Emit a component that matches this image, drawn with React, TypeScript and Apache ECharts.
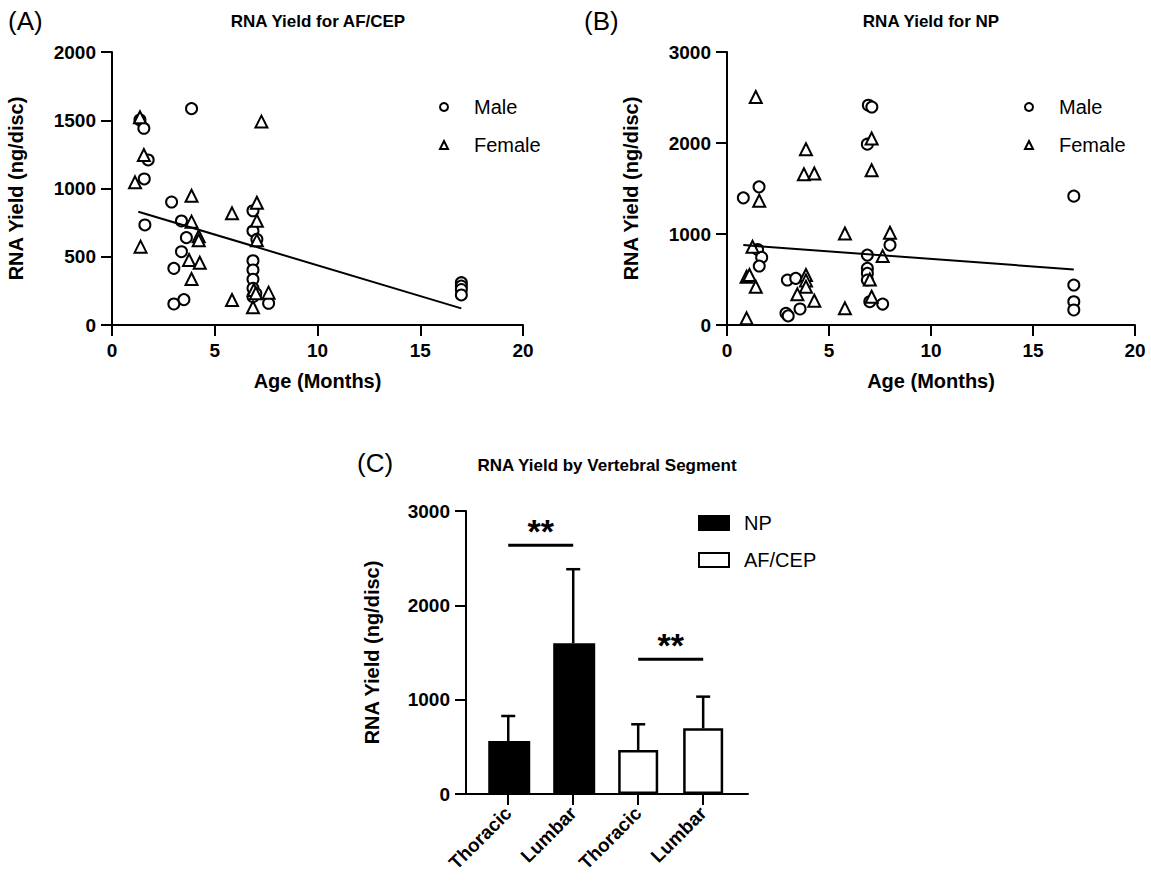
import React, { useEffect, useRef } from "react";
import * as echarts from "echarts";

// ---------- Panel A: RNA yield for AF/CEP ----------
const afcepMale: number[][] = [
  [1.36, 1502], [1.55, 1441], [1.76, 1209], [1.57, 1070], [1.6, 733],
  [3.87, 1585], [2.9, 901], [3.38, 762], [3.62, 640], [3.38, 537],
  [3.01, 415], [3.01, 154], [3.5, 186], [6.86, 837], [6.86, 689],
  [7.05, 628], [6.86, 471], [6.86, 403], [6.86, 335], [6.86, 269],
  [6.86, 207], [7.0, 230], [7.62, 159], [17, 310], [17, 285], [17, 260], [17, 220],
];
const afcepFemale: number[][] = [
  [1.36, 1522], [1.55, 1245], [1.12, 1045], [1.39, 574], [3.87, 947],
  [3.87, 757], [4.22, 650], [4.22, 620], [3.75, 476], [4.27, 456],
  [3.87, 337], [5.84, 818], [5.84, 183], [7.27, 1490], [7.05, 896],
  [7.05, 764], [7.05, 620], [6.9, 256], [7.0, 232], [7.62, 237], [6.86, 130],
];
const afcepFit: number[][] = [[1.28, 830], [17, 122]];

// ---------- Panel B: RNA yield for NP ----------
const npMale: number[][] = [
  [0.8, 1397], [1.57, 1518], [1.5, 830], [1.7, 743], [1.58, 648],
  [2.96, 494], [3.37, 512], [2.89, 128], [3.0, 100], [3.58, 176],
  [6.93, 2415], [7.1, 2395], [6.88, 1987], [6.88, 768], [6.88, 622],
  [6.88, 567], [6.88, 494], [7.0, 256], [7.63, 230], [7.99, 878],
  [17, 1416], [17, 439], [17, 256], [17, 165],
];
const npFemale: number[][] = [
  [1.41, 2506], [3.87, 1932], [3.77, 1657], [4.28, 1665], [7.09, 2049],
  [7.09, 1701], [1.58, 1365], [1.25, 860], [5.78, 1006], [7.99, 1013],
  [7.63, 757], [0.96, 530], [1.1, 550], [1.41, 421], [0.96, 73],
  [3.87, 549], [3.87, 490], [3.87, 420], [3.45, 337], [4.28, 267],
  [5.78, 183], [7.0, 500], [7.09, 311],
];
const npFit: number[][] = [[0.8, 878], [17, 611]];

// ---------- Panel C: RNA yield by vertebral segment ----------
const segmentLabels = ["Thoracic", "Lumbar", "Thoracic", "Lumbar"];
const npMeans = [562, 1598];
const npSD = [265, 785];
const afMeans = [467, 697];
const afSD = [272, 335];
const sigBrackets: number[][] = [[0, 1, 2637], [2, 3, 1428]];
const sigText = "**";

const FONT = "Arial, 'Liberation Sans', Helvetica, sans-serif";

export default function App() {
  const ref = useRef<HTMLDivElement>(null);

  useEffect(() => {
    if (!ref.current) return;
    const chart = echarts.init(ref.current, undefined, { renderer: "svg" });

    const axisLine = { onZero: false, lineStyle: { color: "#000", width: 2 } };
    const axisTick = { show: true, inside: false, length: 11, lineStyle: { color: "#000", width: 2 } };
    const tickLabel = {
      color: "#000",
      fontSize: 19,
      fontWeight: "bold" as const,
      fontFamily: FONT,
      formatter: (v: number) => String(v),
    };
    const nameStyle = { color: "#000", fontSize: 20, fontWeight: "bold" as const, fontFamily: FONT };

    const xScatter = (gridIndex: number) => ({
      type: "value",
      gridIndex,
      min: 0,
      max: 20,
      interval: 5,
      name: "Age (Months)",
      nameLocation: "middle",
      nameGap: 46,
      nameTextStyle: nameStyle,
      axisLine,
      axisTick,
      axisLabel: { ...tickLabel, margin: 16 },
      splitLine: { show: false },
    });

    const yAxisBase = (gridIndex: number, max: number, interval: number) => ({
      type: "value",
      gridIndex,
      min: 0,
      max,
      interval,
      name: "RNA Yield (ng/disc)",
      nameLocation: "middle",
      nameGap: 86,
      nameRotate: 90,
      nameTextStyle: nameStyle,
      axisLine: { show: true, ...axisLine },
      axisTick,
      axisLabel: { ...tickLabel, margin: 16 },
      splitLine: { show: false },
    });

    const markerStyle = { color: "#fff", borderColor: "#000", borderWidth: 2, opacity: 1 };

    const scatterSeries = (name: string, data: number[][], idx: number, symbol: string) => ({
      type: "scatter",
      name,
      xAxisIndex: idx,
      yAxisIndex: idx,
      symbol,
      symbolSize: symbol === "circle" ? 11 : 12,
      itemStyle: markerStyle,
      data,
      z: 3,
    });

    const fitSeries = (data: number[][], idx: number) => ({
      type: "line",
      xAxisIndex: idx,
      yAxisIndex: idx,
      data,
      symbol: "none",
      lineStyle: { color: "#000", width: 2 },
      z: 4,
      silent: true,
    });

    const legendText = { color: "#000", fontSize: 20, fontFamily: FONT, padding: [0, 0, 0, 21] };

    const errorData = [
      ...npMeans.map((m, i) => [i, m, npSD[i]]),
      ...afMeans.map((m, i) => [i + 2, m, afSD[i]]),
    ];

    const option: any = {
      animation: false,
      backgroundColor: "#fff",
      textStyle: { fontFamily: FONT },
      grid: [
        { left: 112, top: 52, width: 411, height: 273 },
        { left: 727, top: 52, width: 408, height: 273 },
        { left: 466, top: 511, width: 282, height: 283 },
      ],
      xAxis: [
        xScatter(0),
        xScatter(1),
        {
          type: "value",
          gridIndex: 2,
          min: -0.65,
          max: 3.69,
          axisLine,
          axisTick: { ...axisTick, customValues: [0, 1, 2, 3] },
          axisLabel: {
            ...tickLabel,
            customValues: [0, 1, 2, 3],
            rotate: 45,
            margin: 16,
            formatter: (v: number) => segmentLabels[Math.round(v)] ?? "",
          },
          splitLine: { show: false },
        },
      ],
      yAxis: [
        yAxisBase(0, 2000, 500),
        yAxisBase(1, 3000, 1000),
        { ...yAxisBase(2, 3000, 1000), nameGap: 84 },
      ],
      legend: [
        {
          data: ["Male", "Female"],
          orient: "vertical",
          left: 439,
          top: 97,
          padding: 0,
          itemWidth: 8,
          itemHeight: 8,
          itemGap: 18,
          textStyle: legendText,
          selectedMode: false,
        },
        {
          data: ["Male", "Female"],
          orient: "vertical",
          left: 1024,
          top: 97,
          padding: 0,
          itemWidth: 8,
          itemHeight: 8,
          itemGap: 18,
          textStyle: legendText,
          selectedMode: false,
        },
        {
          data: ["NP", "AF/CEP"],
          orient: "vertical",
          left: 698,
          top: 513,
          padding: 0,
          itemWidth: 30,
          itemHeight: 14,
          itemGap: 17,
          icon: "rect",
          textStyle: { ...legendText, padding: [0, 0, 0, 10] },
          selectedMode: false,
        },
      ],
      graphic: [
        { type: "text", x: 8, y: 8, style: { text: "(A)", font: `26px ${FONT}`, fill: "#000" } },
        { type: "text", x: 584, y: 8, style: { text: "(B)", font: `26px ${FONT}`, fill: "#000" } },
        { type: "text", x: 357, y: 450, style: { text: "(C)", font: `26px ${FONT}`, fill: "#000" } },
        { type: "text", x: 318, y: 21, style: { text: "RNA Yield for AF/CEP", font: `bold 17px ${FONT}`, fill: "#000", align: "center", verticalAlign: "middle" } },
        { type: "text", x: 931, y: 21, style: { text: "RNA Yield for NP", font: `bold 17px ${FONT}`, fill: "#000", align: "center", verticalAlign: "middle" } },
        { type: "text", x: 607, y: 465, style: { text: "RNA Yield by Vertebral Segment", font: `bold 17px ${FONT}`, fill: "#000", align: "center", verticalAlign: "middle" } },
      ],
      series: [
        scatterSeries("Male", afcepMale, 0, "circle"),
        scatterSeries("Female", afcepFemale, 0, "triangle"),
        fitSeries(afcepFit, 0),
        scatterSeries("Male", npMale, 1, "circle"),
        scatterSeries("Female", npFemale, 1, "triangle"),
        fitSeries(npFit, 1),
        {
          type: "bar",
          name: "NP",
          xAxisIndex: 2,
          yAxisIndex: 2,
          barWidth: 42,
          barGap: "-100%",
          itemStyle: { color: "#000", borderColor: "#000", borderWidth: 2 },
          data: npMeans.map((m, i) => [i, m]),
          z: 2,
        },
        {
          type: "bar",
          name: "AF/CEP",
          xAxisIndex: 2,
          yAxisIndex: 2,
          barWidth: 40,
          barGap: "-100%",
          itemStyle: { color: "#fff", borderColor: "#000", borderWidth: 2.5 },
          data: afMeans.map((m, i) => [i + 2, m]),
          z: 2,
        },
        {
          type: "custom",
          xAxisIndex: 2,
          yAxisIndex: 2,
          silent: true,
          z: 5,
          data: errorData,
          encode: { x: 0, y: 1 },
          renderItem: (_params: any, api: any) => {
            const x = api.value(0);
            const m = api.value(1);
            const sd = api.value(2);
            const p1 = api.coord([x, m]);
            const p2 = api.coord([x, m + sd]);
            const style = { stroke: "#000", lineWidth: 2.5, fill: "none" };
            return {
              type: "group",
              children: [
                { type: "line", shape: { x1: p1[0], y1: p1[1], x2: p2[0], y2: p2[1] }, style },
                { type: "line", shape: { x1: p2[0] - 7, y1: p2[1], x2: p2[0] + 7, y2: p2[1] }, style },
              ],
            };
          },
        },
        {
          type: "custom",
          xAxisIndex: 2,
          yAxisIndex: 2,
          silent: true,
          z: 5,
          data: sigBrackets,
          encode: { x: [0, 1], y: 2 },
          renderItem: (_params: any, api: any) => {
            const a = api.coord([api.value(0), api.value(2)]);
            const b = api.coord([api.value(1), api.value(2)]);
            return {
              type: "group",
              children: [
                { type: "line", shape: { x1: a[0], y1: a[1], x2: b[0], y2: b[1] }, style: { stroke: "#000", lineWidth: 3 } },
                {
                  type: "text",
                  x: (a[0] + b[0]) / 2,
                  y: a[1] - 14,
                  style: { text: sigText, font: `bold 34px ${FONT}`, fill: "#000", align: "center", verticalAlign: "middle" },
                },
              ],
            };
          },
        },
      ],
    };

    chart.setOption(option);
    return () => chart.dispose();
  }, []);

  return (
    <div
      ref={ref}
      style={{ position: "fixed", left: 0, top: 0, width: 1151, height: 882, background: "#fff" }}
    />
  );
}
